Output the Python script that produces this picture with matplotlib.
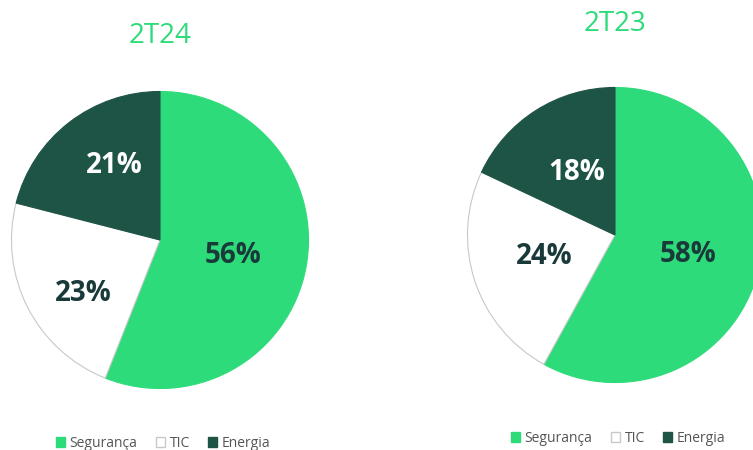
import numpy as np
import matplotlib.pyplot as plt
from matplotlib.patches import Patch

plt.rcParams['font.family'] = ['Open Sans', 'DejaVu Sans']

categories = ["Segurança", "TIC", "Energia"]
values_2t24 = [56, 23, 21]
values_2t23 = [58, 24, 18]
titles = ["2T24", "2T23"]

colors = ["#2EDB7A", "#FFFFFF", "#1E5446"]
label_colors = ["#1A3A3A", "#1A3A3A", "#FFFFFF"]
edge = "#C8C8C8"
W, H = 753, 450


def px_axes(fig, left, top, size):
    return fig.add_axes([left / W, (H - top - size) / H, size / W, size / H])


def draw_pie(ax, vals, title, dists, shifts, title_y, leg_y):
    wedges, _ = ax.pie(vals, colors=colors, startangle=90, counterclock=False,
                       wedgeprops=dict(edgecolor=edge, linewidth=0.8))
    for w in wedges:
        if w.get_facecolor()[:3] != (1.0, 1.0, 1.0):
            w.set_edgecolor(w.get_facecolor())
    # labels sit near the wedge middle, nudged a little like in the original
    for w, v, d, s, c in zip(wedges, vals, dists, shifts, label_colors):
        th = np.deg2rad((w.theta1 + w.theta2) / 2 + s)
        ax.text(d * np.cos(th), d * np.sin(th), f"{v}%", ha="center", va="center",
                fontsize=20, fontweight="bold", color=c)
    ax.set_title(title, color="#2EDB7A", fontsize=20, y=title_y)
    handles = [Patch(facecolor=c, edgecolor=(edge if c == "#FFFFFF" else c)) for c in colors]
    ax.legend(handles, categories, loc="center", bbox_to_anchor=(0.51, leg_y), ncol=3,
              frameon=False, fontsize=10, labelcolor="#555555", handlelength=0.7,
              handleheight=0.7, handletextpad=0.3, columnspacing=1.3)
    ax.set_xlim(-1.01, 1.01)
    ax.set_ylim(-1.01, 1.01)


fig = plt.figure(figsize=(W / 100, H / 100), dpi=100)
ax1 = px_axes(fig, 10, 90, 300)
ax2 = px_axes(fig, 466, 86, 298)
draw_pie(ax1, values_2t24, titles[0], [0.5, 0.63, 0.59], [-1, 8, -6], 1.13, -0.177)
draw_pie(ax2, values_2t23, titles[1], [0.51, 0.5, 0.5], [-1, -1, -1], 1.157, -0.182)
fig.savefig("out.png", dpi=100)
